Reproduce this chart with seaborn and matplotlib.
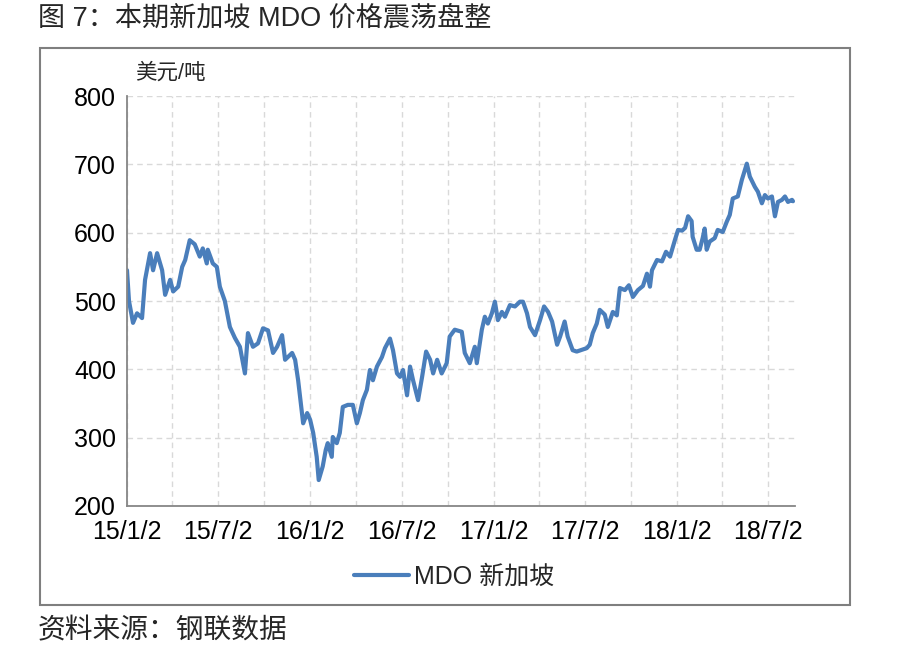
import pandas as pd
import seaborn as sns
import matplotlib.pyplot as plt
import matplotlib.dates as mdates
from matplotlib.patches import Rectangle
from matplotlib.ticker import FuncFormatter, MultipleLocator

# MDO Singapore price (USD/t)
start_date = '2015-01-02'
days_from_start = [
    0, 4, 12, 20, 30, 36, 46, 52, 60, 70, 76, 86, 92, 102, 110, 116,
    125, 135, 145, 151, 159, 161, 171, 179, 185, 195, 205, 215, 225, 235,
    241, 251, 261, 271, 281, 291, 299, 309, 315, 329, 335, 341, 351, 359,
    365, 371, 378, 382, 390, 396, 400, 408, 410, 418, 424, 430, 440, 450,
    458, 464, 470, 478, 484, 490, 498, 508, 514, 524, 530, 538, 544, 550,
    558, 564, 570, 580, 588, 596, 604, 610, 618, 627, 637, 643, 653, 667,
    673, 683, 693, 697, 707, 713, 719, 727, 733, 739, 747, 753, 763, 773,
    783, 789, 797, 803, 813, 823, 831, 839, 847, 857, 863, 872, 878, 888,
    896, 916, 922, 928, 936, 942, 952, 958, 968, 976, 982, 992, 1000, 1008,
    1018, 1028, 1036, 1042, 1046, 1056, 1066, 1074, 1082, 1092, 1098, 1106,
    1112, 1118, 1125, 1127, 1135, 1141, 1147, 1151, 1155, 1161, 1171, 1177,
    1187, 1195, 1201, 1207, 1217, 1225, 1235, 1241, 1251, 1257, 1265, 1271,
    1277, 1285, 1291, 1297, 1305, 1311, 1317, 1325, 1327,
]
mdo_price = [
    545, 500, 468, 482, 475, 531, 570, 545, 570, 545, 509, 531, 514, 521, 550, 560,
    589, 583, 565, 577, 555, 575, 555, 550, 521, 500, 462, 446, 433, 394,
    453, 433, 438, 460, 457, 424, 433, 450, 414, 424, 414, 384, 321, 336,
    326, 307, 272, 238, 258, 282, 292, 272, 301, 292, 307, 345, 348, 348,
    321, 336, 355, 370, 399, 384, 404, 418, 431, 445, 428, 394, 389, 399,
    362, 404, 384, 355, 389, 426, 414, 394, 414, 394, 409, 448, 458, 455,
    424, 409, 433, 409, 458, 477, 467, 482, 499, 472, 484, 477, 494, 492,
    499, 499, 482, 462, 450, 472, 492, 484, 470, 436, 448, 470, 448, 428,
    426, 431, 436, 453, 467, 487, 480, 462, 484, 479, 519, 516, 523, 506,
    516, 522, 540, 521, 545, 560, 558, 572, 565, 590, 604, 603,
    607, 624, 617, 594, 575, 575, 592, 606, 575, 587, 592, 604,
    601, 616, 626, 650, 653, 677, 701, 682, 667, 660, 643, 655,
    650, 653, 624, 645, 648, 653, 645, 648, 646,
]
x_end_date = '2018-08-25'
series_name = 'MDO 新加坡'

df = pd.DataFrame({
    'date': pd.Timestamp(start_date) + pd.to_timedelta(days_from_start, unit='D'),
    'price': mdo_price,
})

sns.set_style('white')
plt.rcParams['font.family'] = ['Liberation Sans', 'Noto Sans CJK SC']

fig = plt.figure(figsize=(9.09, 6.54), dpi=100)
ax = fig.add_axes([0.1397, 0.2263, 0.7349, 0.6269])

sns.lineplot(data=df, x='date', y='price', ax=ax, color='#4A7EBB',
             linewidth=3, label=series_name)

ax.set_xlim(pd.Timestamp(start_date), pd.Timestamp(x_end_date))
ax.set_ylim(200, 800)
ax.yaxis.set_major_locator(MultipleLocator(100))

ax.xaxis.set_major_locator(mdates.MonthLocator(bymonth=[1, 7], bymonthday=2))
ax.xaxis.set_minor_locator(mdates.MonthLocator(bymonth=[1, 4, 7, 10], bymonthday=2))
ax.xaxis.set_major_formatter(FuncFormatter(
    lambda v, pos: (lambda d: f'{d.year % 100}/{d.month}/{d.day}')(mdates.num2date(v))))

ax.grid(True, axis='x', which='both', color='#D9D9D9', linestyle=(0, (4, 3)), linewidth=1)
ax.grid(True, axis='y', which='major', color='#D9D9D9', linestyle=(0, (4, 3)), linewidth=1)
ax.set_axisbelow(True)

for side in ['top', 'right']:
    ax.spines[side].set_visible(False)
for side in ['left', 'bottom']:
    ax.spines[side].set_color('#868686')
    ax.spines[side].set_linewidth(1.3)

ax.tick_params(axis='both', which='major', direction='out', length=5, width=1.2,
               color='#868686', labelsize=18, labelcolor='black', pad=5)
ax.tick_params(axis='x', which='minor', length=0)
ax.tick_params(axis='y', pad=3)
ax.set_xlabel('')
ax.set_ylabel('')

ax.get_legend().remove()
fig.legend(loc='center', bbox_to_anchor=(0.5, 0.118), frameon=False,
           fontsize=18, handlelength=2.2, handletextpad=0.2)

fig.text(135 / 909, 1 - 73 / 654, '美元/吨', fontsize=15.5, va='center', ha='left')
fig.text(38 / 909, 1 - 19 / 654, '图 7：本期新加坡 MDO 价格震荡盘整', fontsize=19.5,
         va='center', ha='left')
fig.text(38 / 909, 1 - 631 / 654, '资料来源：钢联数据', fontsize=20,
         va='center', ha='left')

fig.patches.append(Rectangle((40 / 909, 1 - 605 / 654), 810 / 909, 557 / 654,
                             transform=fig.transFigure, fill=False,
                             edgecolor='#7F7F7F', linewidth=1.5))

fig.savefig('out.png', dpi=100)
